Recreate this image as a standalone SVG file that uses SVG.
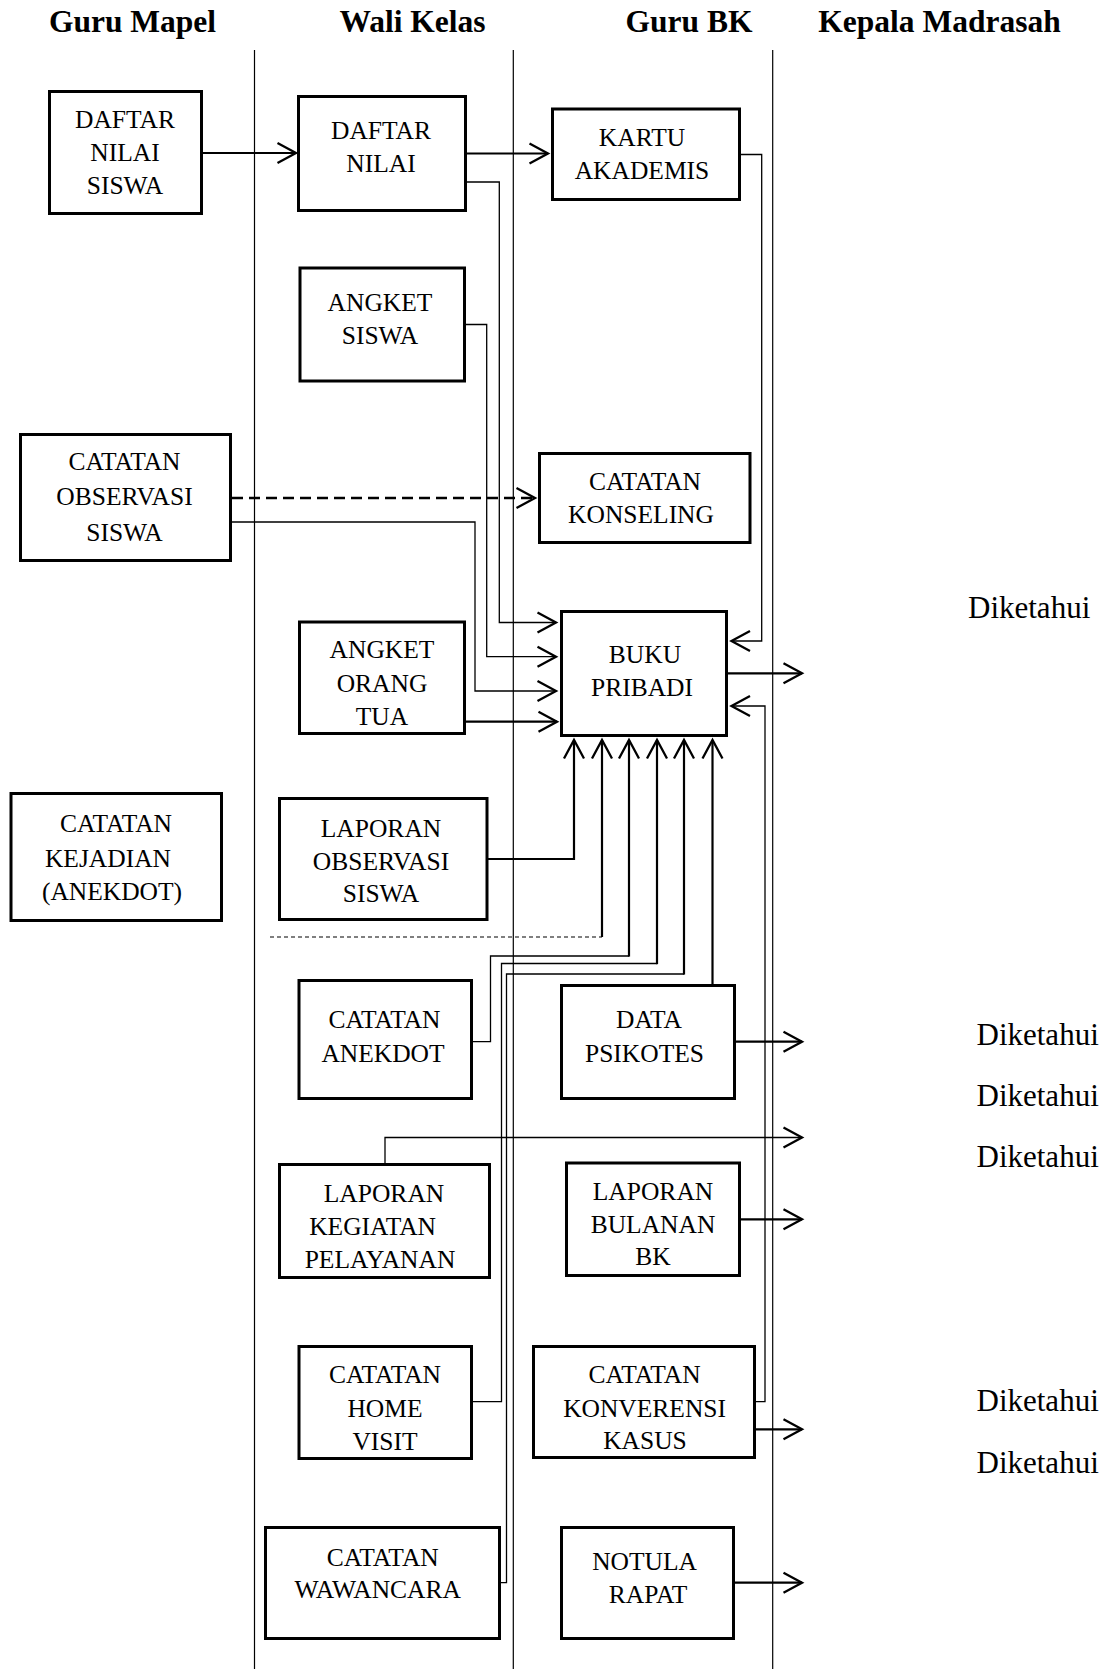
<svg xmlns="http://www.w3.org/2000/svg" width="1107" height="1669" viewBox="0 0 1107 1669">
<style>
.bg{fill:#fff}
.box{fill:#fff;stroke:#000;stroke-width:3}
.lane{stroke:#000;stroke-width:1.2;fill:none}
.t{font-family:"Liberation Serif","Times New Roman",serif;font-size:25.5px;fill:#000;text-anchor:middle}
.h{font-family:"Liberation Serif","Times New Roman",serif;font-size:31.5px;font-weight:bold;fill:#000;text-anchor:middle}
.d{font-family:"Liberation Serif","Times New Roman",serif;font-size:31px;fill:#000}
.c{fill:none;stroke:#000;stroke-width:1.3}
.cb{fill:none;stroke:#000;stroke-width:2.2}
.dash{fill:none;stroke:#000;stroke-width:2.6;stroke-dasharray:11 6}
.dt{fill:none;stroke:#000;stroke-width:1.2;stroke-dasharray:4 3}
</style>
<defs>
<marker id="arr" markerUnits="userSpaceOnUse" markerWidth="40" markerHeight="40" refX="20" refY="20" orient="auto" overflow="visible">
<path d="M1.5,10 L20,20 L1.5,30" fill="none" stroke="#000" stroke-width="2.3"/>
</marker>
</defs>
<rect class="bg" x="0" y="0" width="1107" height="1669"/>

<g id="headers">
<text class="h" x="132.5" y="32">Guru Mapel</text>
<text class="h" x="412.5" y="32">Wali Kelas</text>
<text class="h" x="689" y="32">Guru BK</text>
<text class="h" x="939.5" y="32">Kepala Madrasah</text>
</g>

<g id="lanes">
<line class="lane" x1="254.5" y1="50" x2="254.5" y2="1669"/>
<line class="lane" x1="513.3" y1="50" x2="513.3" y2="1669"/>
<line class="lane" x1="772.7" y1="50" x2="772.7" y2="1669"/>
</g>

<g id="connectors">
<line class="cb" x1="203" y1="153" x2="296" y2="153" marker-end="url(#arr)"/>
<line class="cb" x1="467" y1="153.5" x2="548" y2="153.5" marker-end="url(#arr)"/>
<polyline class="c" points="467,182 499.3,182 499.3,622.5 556,622.5" marker-end="url(#arr)"/>
<polyline class="c" points="466,324.5 486.7,324.5 486.7,656.7 556,656.7" marker-end="url(#arr)"/>
<polyline class="c" points="232,522 475,522 475,691 556,691" marker-end="url(#arr)"/>
<line class="cb" x1="466" y1="721.7" x2="557" y2="721.7" marker-end="url(#arr)"/>
<line class="dash" x1="232" y1="498" x2="535" y2="498" marker-end="url(#arr)"/>
<polyline class="c" points="741,154.5 761.7,154.5 761.7,641 731.5,641" marker-end="url(#arr)"/>
<polyline class="c" points="756,1401.7 765,1401.7 765,706 731.5,706" marker-end="url(#arr)"/>
<line class="cb" x1="728" y1="673.3" x2="802" y2="673.3" marker-end="url(#arr)"/>
<polyline class="cb" points="488,859 574,859 574,740" marker-end="url(#arr)"/>
<g id="conn-dashed-up">
<line class="dt" x1="270" y1="937" x2="602" y2="937"/>
<line class="cb" x1="602" y1="937" x2="602" y2="740" marker-end="url(#arr)"/>
</g>
<polyline class="c" points="473,1041.7 490.5,1041.7 490.5,956 629,956" />
<line class="cb" x1="629" y1="956.6" x2="629" y2="740" marker-end="url(#arr)"/>
<polyline class="c" points="473,1401.7 501.5,1401.7 501.5,963.5 657,963.5"/>
<line class="cb" x1="657" y1="964.2" x2="657" y2="740" marker-end="url(#arr)"/>
<polyline class="c" points="501,1582.7 506.5,1582.7 506.5,974 684,974"/>
<line class="cb" x1="684" y1="974.6" x2="684" y2="740" marker-end="url(#arr)"/>
<line class="cb" x1="712.5" y1="984" x2="712.5" y2="740" marker-end="url(#arr)"/>
<line class="cb" x1="736" y1="1041.7" x2="802" y2="1041.7" marker-end="url(#arr)"/>
<polyline class="c" points="385,1163 385,1137.5 802,1137.5" marker-end="url(#arr)"/>
<line class="cb" x1="741" y1="1219.3" x2="802" y2="1219.3" marker-end="url(#arr)"/>
<line class="cb" x1="756" y1="1429.3" x2="802" y2="1429.3" marker-end="url(#arr)"/>
<line class="cb" x1="735" y1="1582.7" x2="802" y2="1582.7" marker-end="url(#arr)"/>
</g>

<g id="n-daftar-nilai-siswa">
<rect class="box" x="49.5" y="91.5" width="152" height="122"/>
<text class="t" x="125" y="127.5">DAFTAR</text>
<text class="t" x="125" y="160.5">NILAI</text>
<text class="t" x="125" y="193.5">SISWA</text>
</g>
<g id="n-daftar-nilai">
<rect class="box" x="298.5" y="96.5" width="167" height="114"/>
<text class="t" x="381" y="139">DAFTAR</text>
<text class="t" x="381" y="172">NILAI</text>
</g>
<g id="n-kartu-akademis">
<rect class="box" x="552.5" y="109" width="187" height="90.5"/>
<text class="t" x="642" y="145.5">KARTU</text>
<text class="t" x="642" y="178.5">AKADEMIS</text>
</g>
<g id="n-angket-siswa">
<rect class="box" x="300" y="268" width="164.5" height="113"/>
<text class="t" x="380" y="311">ANGKET</text>
<text class="t" x="380" y="344">SISWA</text>
</g>
<g id="n-catatan-observasi-siswa">
<rect class="box" x="20.5" y="434.5" width="210" height="126"/>
<text class="t" x="124.5" y="470">CATATAN</text>
<text class="t" x="124.5" y="505">OBSERVASI</text>
<text class="t" x="124.5" y="540.5">SISWA</text>
</g>
<g id="n-catatan-konseling">
<rect class="box" x="539.5" y="453.5" width="210.5" height="89"/>
<text class="t" x="645" y="489.5">CATATAN</text>
<text class="t" x="641" y="522.5">KONSELING</text>
</g>
<g id="n-buku-pribadi">
<rect class="box" x="561.5" y="611.5" width="165" height="124"/>
<text class="t" x="645" y="662.5">BUKU</text>
<text class="t" x="642" y="696">PRIBADI</text>
</g>
<g id="n-angket-orang-tua">
<rect class="box" x="299.5" y="622" width="165" height="111.5"/>
<text class="t" x="382" y="657.5">ANGKET</text>
<text class="t" x="382" y="691.5">ORANG</text>
<text class="t" x="382" y="725">TUA</text>
</g>
<g id="n-catatan-kejadian">
<rect class="box" x="11" y="793.5" width="210.5" height="127"/>
<text class="t" x="116" y="831.5">CATATAN</text>
<text class="t" x="108" y="866.5">KEJADIAN</text>
<text class="t" x="112" y="900">(ANEKDOT)</text>
</g>
<g id="n-laporan-observasi-siswa">
<rect class="box" x="279.5" y="798.5" width="207.5" height="121"/>
<text class="t" x="381" y="836.5">LAPORAN</text>
<text class="t" x="381" y="869.5">OBSERVASI</text>
<text class="t" x="381" y="902">SISWA</text>
</g>
<g id="n-catatan-anekdot">
<rect class="box" x="299" y="980.5" width="172.5" height="118"/>
<text class="t" x="384.5" y="1028">CATATAN</text>
<text class="t" x="383" y="1061.5">ANEKDOT</text>
</g>
<g id="n-data-psikotes">
<rect class="box" x="561.5" y="985.5" width="173" height="113"/>
<text class="t" x="649" y="1028">DATA</text>
<text class="t" x="644.5" y="1061.5">PSIKOTES</text>
</g>
<g id="n-laporan-kegiatan-pelayanan">
<rect class="box" x="279.5" y="1164.5" width="210" height="113"/>
<text class="t" x="384" y="1201.5">LAPORAN</text>
<text class="t" x="372.6" y="1235">KEGIATAN</text>
<text class="t" x="380" y="1268">PELAYANAN</text>
</g>
<g id="n-laporan-bulanan-bk">
<rect class="box" x="566.5" y="1163" width="173" height="112.5"/>
<text class="t" x="653" y="1200">LAPORAN</text>
<text class="t" x="653" y="1233">BULANAN</text>
<text class="t" x="653" y="1265">BK</text>
</g>
<g id="n-catatan-home-visit">
<rect class="box" x="299" y="1346.5" width="172.5" height="112"/>
<text class="t" x="385" y="1383.3">CATATAN</text>
<text class="t" x="385" y="1416.7">HOME</text>
<text class="t" x="385" y="1450">VISIT</text>
</g>
<g id="n-catatan-konverensi-kasus">
<rect class="box" x="533.5" y="1346.5" width="221" height="111"/>
<text class="t" x="644.6" y="1383.3">CATATAN</text>
<text class="t" x="644.6" y="1416.7">KONVERENSI</text>
<text class="t" x="645" y="1449.3">KASUS</text>
</g>
<g id="n-catatan-wawancara">
<rect class="box" x="265.5" y="1527.5" width="234" height="111"/>
<text class="t" x="382.7" y="1566">CATATAN</text>
<text class="t" x="377.7" y="1598.3">WAWANCARA</text>
</g>
<g id="n-notula-rapat">
<rect class="box" x="561.5" y="1527.5" width="172" height="111"/>
<text class="t" x="644.6" y="1570">NOTULA</text>
<text class="t" x="648" y="1603.3">RAPAT</text>
</g>

<g id="labels">
<text class="d" x="968" y="618">Diketahui</text>
<text class="d" x="976.5" y="1045">Diketahui</text>
<text class="d" x="976.5" y="1106">Diketahui</text>
<text class="d" x="976.5" y="1166.5">Diketahui</text>
<text class="d" x="976.5" y="1411">Diketahui</text>
<text class="d" x="976.5" y="1473">Diketahui</text>
</g>
</svg>
